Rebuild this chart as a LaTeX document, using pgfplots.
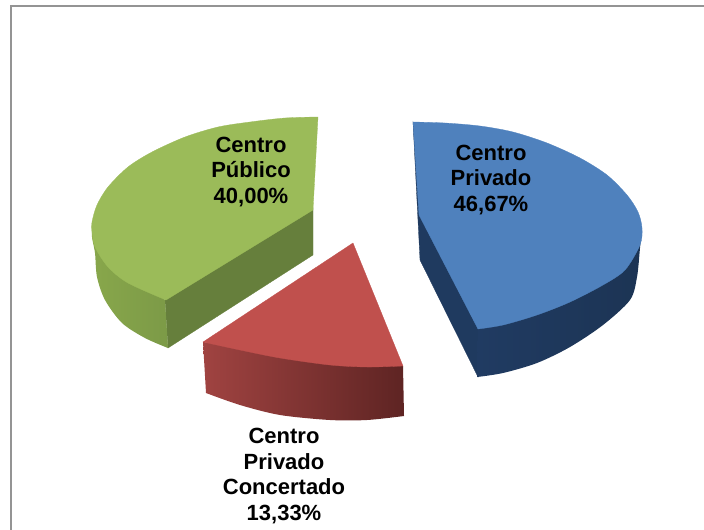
\documentclass[border=0pt]{standalone}
\usepackage{pgfplots}
\pgfplotsset{compat=1.18}
\usepackage{fontspec}
\setmainfont{Liberation Sans}
\definecolor{gtop}{HTML}{9BBB59}
\definecolor{gcut}{HTML}{667F3C}
\definecolor{gsl}{HTML}{88A74B}
\definecolor{gsr}{HTML}{7C9A47}
\definecolor{btop}{HTML}{4F81BD}
\definecolor{bcut}{HTML}{1F3A5F}
\definecolor{bsl}{HTML}{203B62}
\definecolor{bsr}{HTML}{1C3454}
\definecolor{rtop}{HTML}{C0504D}
\definecolor{rsl}{HTML}{A04341}
\definecolor{rsr}{HTML}{5E2423}
\begin{document}
\begin{tikzpicture}
\begin{axis}[
  width=704pt,height=530pt,scale only axis,
  xmin=0,xmax=704,ymin=0,ymax=530,y dir=reverse,
  xtick=\empty,ytick=\empty,axis line style={draw=none},
  clip=true]
% frame
\addplot[draw=black!42,line width=1.8pt] coordinates {(704,6)(11,6)(11,530)};
% green
\addplot[draw=gcut,fill=gcut,line width=0.3pt] coordinates {(313,208)(165,300)(168,348)(313,255)} -- cycle;
\addplot[draw=none,smooth,left color=gsl,right color=gsr] coordinates {(92,223)(92,237)(95,253)(97,277)(105,300)(122,323)(145,338)(168,348)} -- (axis cs:165,300) -- cycle;
\addplot[draw=gtop,fill=gtop,line width=0.3pt,smooth] coordinates {(318,117)(285,118)(250,122)(218,127)(185,137)(152,152)(128,167)(108,187)(97,205)(92,222)(92,232)(95,247)(108,267)(128,283)(166,300)} -- (axis cs:313,210) -- cycle;
% blue
\addplot[draw=bcut,fill=bcut,line width=0.3pt] coordinates {(413,122)(420,260)(478,377)(478,328)} -- cycle;
\addplot[draw=none,smooth,left color=bsl,right color=bsr] coordinates {(477,377)(503,373)(537,363)(570,347)(603,325)(630,300)(637,277)(640,248)(642,228)} -- (axis cs:478,328) -- cycle;
\addplot[draw=btop,fill=btop,line width=0.3pt,smooth] coordinates {(413,122)(445,123)(480,126)(513,132)(547,143)(580,158)(607,175)(627,195)(638,212)(642,228)(640,245)(625,270)(603,285)(570,302)(537,315)(503,325)(478,329)} -- (axis cs:419,215) -- cycle;
% red
\addplot[draw=none,smooth,left color=rsl,right color=rsr] coordinates {(206,393)(240,405)(280,415)(330,420)(367,420)(404,416)} -- (axis cs:403,366) -- (axis cs:203,342) -- cycle;
\addplot[draw=rtop,fill=rtop,line width=0.3pt,smooth] coordinates {(203,342)(240,350)(280,358)(330,365)(367,367)(403,366)} -- (axis cs:353,243) -- cycle;
% labels
\node[align=center,font=\fontsize{22}{25.4}\selectfont\bfseries] at (axis cs:251,172) {Centro\\Público\\40,00\%};
\node[align=center,font=\fontsize{22}{25.4}\selectfont\bfseries] at (axis cs:491,180) {Centro\\Privado\\46,67\%};
\node[align=center,font=\fontsize{22}{25.4}\selectfont\bfseries] at (axis cs:284,476) {Centro\\Privado\\Concertado\\13,33\%};
\end{axis}
\end{tikzpicture}
\end{document}
